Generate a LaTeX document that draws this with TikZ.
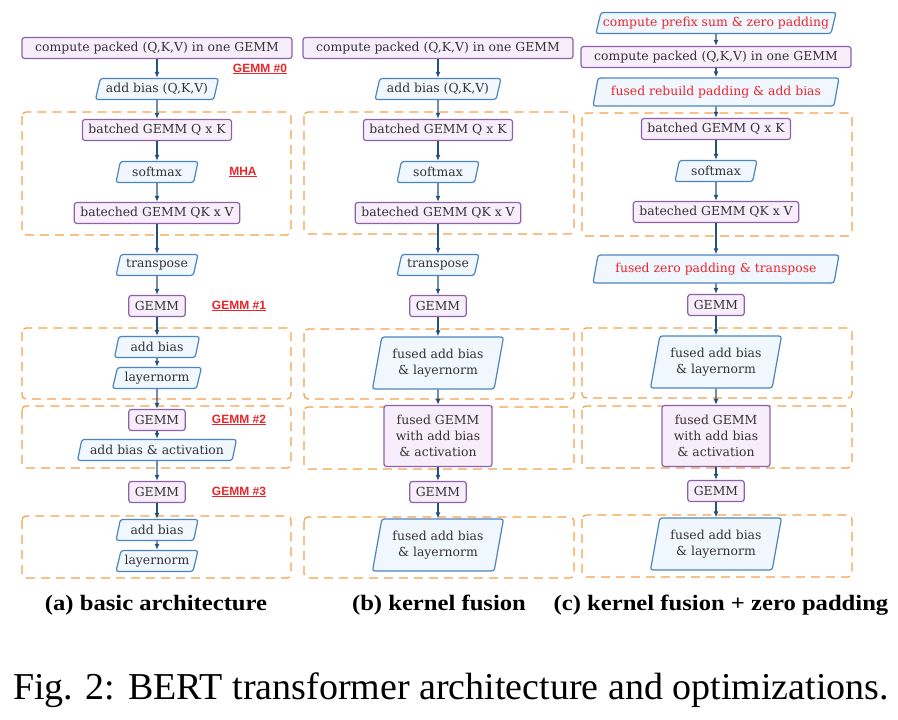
\documentclass[tikz,border=0pt]{standalone}
\usepackage{fontspec}
\setmainfont{DejaVu Serif}
\newfontfamily\tagfont{Liberation Sans}
\newfontfamily\capfont{Liberation Serif}
\usetikzlibrary{shapes.geometric, arrows.meta}

\definecolor{gemmline}{HTML}{8B62A8}
\definecolor{gemmfill}{HTML}{F8EEFB}
\definecolor{opline}{HTML}{4A85BF}
\definecolor{opfill}{HTML}{F1F7FE}
\definecolor{flowline}{HTML}{24527E}
\definecolor{groupline}{HTML}{F5A049}
\definecolor{tagred}{HTML}{E8252A}
\definecolor{txt}{HTML}{333333}

\begin{document}
\begin{tikzpicture}[x=1pt, y=-1pt,
  every node/.style={font=\fontsize{12.4}{16}\selectfont, text=txt},
  gemm/.style={draw=gemmline, fill=gemmfill, line width=1.2pt, rounded corners=2.5pt, minimum height=21pt, inner xsep=6pt, align=center},
  op/.style={trapezium, trapezium left angle=75, trapezium right angle=105, trapezium stretches body, draw=opline, fill=opfill, line width=1.2pt, rounded corners=2.5pt, minimum height=21pt, minimum width=82pt, inner xsep=2pt, align=center},
  group/.style={draw=groupline, line width=1.2pt, dash pattern=on 9pt off 6pt, rounded corners=4pt},
  flow/.style={-{Latex[length=6pt,width=5pt]}, draw=flowline, line width=1.2pt},
  tag/.style={font=\tagfont\bfseries\fontsize{12}{14}\selectfont, text=tagred},
  subcap/.style={font=\capfont\bfseries\fontsize{22}{24}\selectfont, text=black},
  fixed/.style={text=tagred},
  wide/.style={minimum width=270pt},
  fusedop/.style={minimum height=52pt, minimum width=131pt},
  fusedgemm/.style={minimum height=61pt, minimum width=108pt}
]
\useasboundingbox (0,0) rectangle (898,720);

% (a) basic architecture
\draw[group] (22,112) rectangle (291,235);
\draw[group] (22,328) rectangle (291,399);
\draw[group] (22,406) rectangle (291,468);
\draw[group] (22,516) rectangle (291,578);
\node[gemm, wide] (a1) at (157,48) {compute packed (Q,K,V) in one GEMM};
\node[op, minimum width=123pt] (a2) at (157,89) {add bias (Q,K,V)};
\node[gemm] (a3) at (157,130) {batched GEMM Q x K};
\node[op] (a4) at (157,172) {softmax};
\node[gemm] (a5) at (157,213) {bateched GEMM QK x V};
\node[op] (a6) at (157,265) {transpose};
\node[gemm] (a7) at (157,306) {GEMM};
\node[op, minimum width=85pt] (a8) at (157,347) {add bias};
\node[op, minimum width=89pt] (a9) at (157,378) {layernorm};
\node[gemm] (a10) at (157,420) {GEMM};
\node[op, minimum width=159pt] (a11) at (157,450) {add bias \& activation};
\node[gemm] (a12) at (157,492) {GEMM};
\node[op] (a13) at (157,530) {add bias};
\node[op] (a14) at (157,561) {layernorm};
\node[tag] (t0) at (260,69) {\underline{GEMM \#0}};
\node[tag] (t1) at (243,172) {\underline{MHA}};
\node[tag] (t2) at (239,306) {\underline{GEMM \#1}};
\node[tag] (t3) at (239,420) {\underline{GEMM \#2}};
\node[tag] (t4) at (239,492) {\underline{GEMM \#3}};

% (b) kernel fusion
\draw[group] (304,112) rectangle (574,234);
\draw[group] (304,329) rectangle (574,399);
\draw[group] (304,407) rectangle (574,469);
\draw[group] (304,517) rectangle (574,578);
\node[gemm, wide] (b1) at (438,48) {compute packed (Q,K,V) in one GEMM};
\node[op, minimum width=126pt] (b2) at (438,89) {add bias (Q,K,V)};
\node[gemm] (b3) at (438,130) {batched GEMM Q x K};
\node[op] (b4) at (438,172) {softmax};
\node[gemm] (b5) at (438,213) {bateched GEMM QK x V};
\node[op] (b6) at (438,265) {transpose};
\node[gemm] (b7) at (438,306) {GEMM};
\node[op, fusedop] (b8) at (438,363) {fused add bias\\\& layernorm};
\node[gemm, fusedgemm] (b9) at (438,436) {fused GEMM\\with add bias\\\& activation};
\node[gemm] (b10) at (438,492) {GEMM};
\node[op, fusedop] (b11) at (438,545) {fused add bias\\\& layernorm};

% (c) kernel fusion + zero padding
\draw[group] (582,113) rectangle (852,236);
\draw[group] (582,328) rectangle (852,398);
\draw[group] (582,406) rectangle (852,468);
\draw[group] (582,515) rectangle (852,577);
\node[op, fixed] (c0) at (716,23) {compute prefix sum \& zero padding};
\node[gemm, wide] (c1) at (716,57) {compute packed (Q,K,V) in one GEMM};
\node[op, fixed, minimum height=28pt, minimum width=246pt] (c2) at (716,92) {fused rebuild padding \& add bias};
\node[gemm] (c3) at (716,129) {batched GEMM Q x K};
\node[op] (c4) at (716,171) {softmax};
\node[gemm] (c5) at (716,212) {bateched GEMM QK x V};
\node[op, fixed, minimum height=28pt, minimum width=246pt] (c6) at (716,269) {fused zero padding \& transpose};
\node[gemm] (c7) at (716,305) {GEMM};
\node[op, fusedop] (c8) at (716,362) {fused add bias\\\& layernorm};
\node[gemm, fusedgemm] (c9) at (716,436) {fused GEMM\\with add bias\\\& activation};
\node[gemm] (c10) at (716,491) {GEMM};
\node[op, fusedop] (c11) at (716,544) {fused add bias\\\& layernorm};

% connectors
\foreach \u/\v in {a1/a2,a2/a3,a3/a4,a4/a5,a5/a6,a6/a7,a7/a8,a8/a9,a9/a10,a10/a11,a11/a12,a12/a13,a13/a14,
  b1/b2,b2/b3,b3/b4,b4/b5,b5/b6,b6/b7,b7/b8,b8/b9,b9/b10,b10/b11,
  c0/c1,c1/c2,c2/c3,c3/c4,c4/c5,c5/c6,c6/c7,c7/c8,c8/c9,c9/c10,c10/c11}
  \draw[flow] (\u) -- (\v);

% captions
\node[subcap] (sa) at (156,605) {\scalebox{1.12}[1]{(a) basic architecture}};
\node[subcap] (sb) at (439,605) {\scalebox{1.12}[1]{(b) kernel fusion}};
\node[subcap] (sc) at (721,605) {\scalebox{1.12}[1]{(c) kernel fusion + zero padding}};
\node[font=\capfont\fontsize{38}{41}\selectfont, text=black] (cap) at (451,690) {Fig. 2: BERT transformer architecture and optimizations.};
\end{tikzpicture}
\end{document}
